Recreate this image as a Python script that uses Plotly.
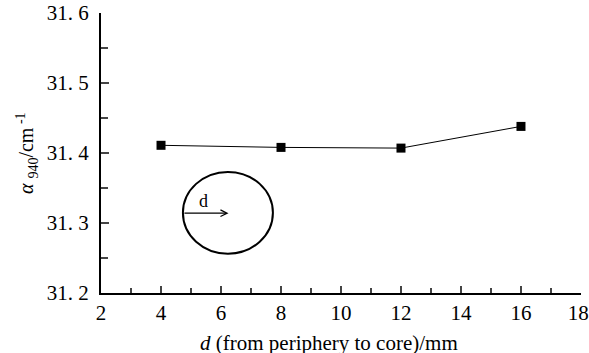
import plotly.graph_objects as go

d_mm = [4, 8, 12, 16]
alpha_940 = [31.411, 31.408, 31.407, 31.438]
y_ticks = [31.2, 31.3, 31.4, 31.5, 31.6]
y_labels = ["31. 2", "31. 3", "31. 4", "31. 5", "31. 6"]
x_ticks = [2, 4, 6, 8, 10, 12, 14, 16, 18]
x_labels = ["2", "4", "6", "8", "10", "12", "14", "16", "18\u00a0"]

FONT = "Liberation Serif"

fig = go.Figure()
fig.add_trace(go.Scatter(
    x=d_mm, y=alpha_940, mode="lines+markers",
    line=dict(color="black", width=1),
    marker=dict(symbol="square", size=9, color="black"),
    showlegend=False, cliponaxis=False,
))

fig.update_layout(
    width=589, height=353,
    margin=dict(l=101, r=8, t=13, b=60, autoexpand=False),
    paper_bgcolor="white", plot_bgcolor="white",
    font=dict(family=FONT, color="black", size=21),
    xaxis=dict(
        range=[1.999, 18.001], tickvals=x_ticks, ticktext=x_labels, ticks="inside", ticklen=7, tickwidth=2,
        showline=True, linecolor="black", linewidth=2, showgrid=False, zeroline=False,
        tickfont=dict(family=FONT, size=21), ticklabeloverflow="allow", automargin=False,
        minor=dict(ticks="inside", ticklen=5, tickwidth=2, dtick=1, tick0=2, showgrid=False),
    ),
    yaxis=dict(
        range=[31.1999, 31.6001], tickvals=y_ticks, ticktext=y_labels, ticks="inside", ticklen=8, tickwidth=2,
        showline=True, linecolor="black", linewidth=2, showgrid=False, zeroline=False,
        tickfont=dict(family=FONT, size=21), ticklabelstandoff=6, ticklabeloverflow="allow",
        automargin=False,
        minor=dict(ticks="inside", ticklen=7, tickwidth=2, dtick=0.05, tick0=31.2, showgrid=False),
    ),
)

# inset circle with radius arrow
fig.add_shape(type="circle", xref="x", yref="y", x0=4.73, x1=7.73, y0=31.256, y1=31.373,
              line=dict(color="black", width=2))
fig.add_annotation(x=6.25, y=31.314, ax=4.73, ay=31.314, xref="x", yref="y", axref="x", ayref="y",
                   text="", showarrow=True, arrowhead=5, arrowsize=1, arrowwidth=1.3, arrowcolor="black")
fig.add_annotation(x=5.4, y=31.331, xref="x", yref="y", text="d", showarrow=False,
                   font=dict(family=FONT, size=18))

# axis titles
fig.add_annotation(xref="paper", yref="paper", x=0.475, y=-0.179, yanchor="middle", xanchor="center",
                   text="<i>d</i> (from periphery to core)/mm", showarrow=False,
                   font=dict(family=FONT, size=21))
fig.add_annotation(xref="paper", yref="paper", x=-0.154, y=0.5, xanchor="center", yanchor="middle",
                   text="<i>α</i> <sub>940</sub>/cm<sup> -1</sup>", showarrow=False, textangle=-90,
                   font=dict(family=FONT, size=20))

fig.write_html("out.html")
